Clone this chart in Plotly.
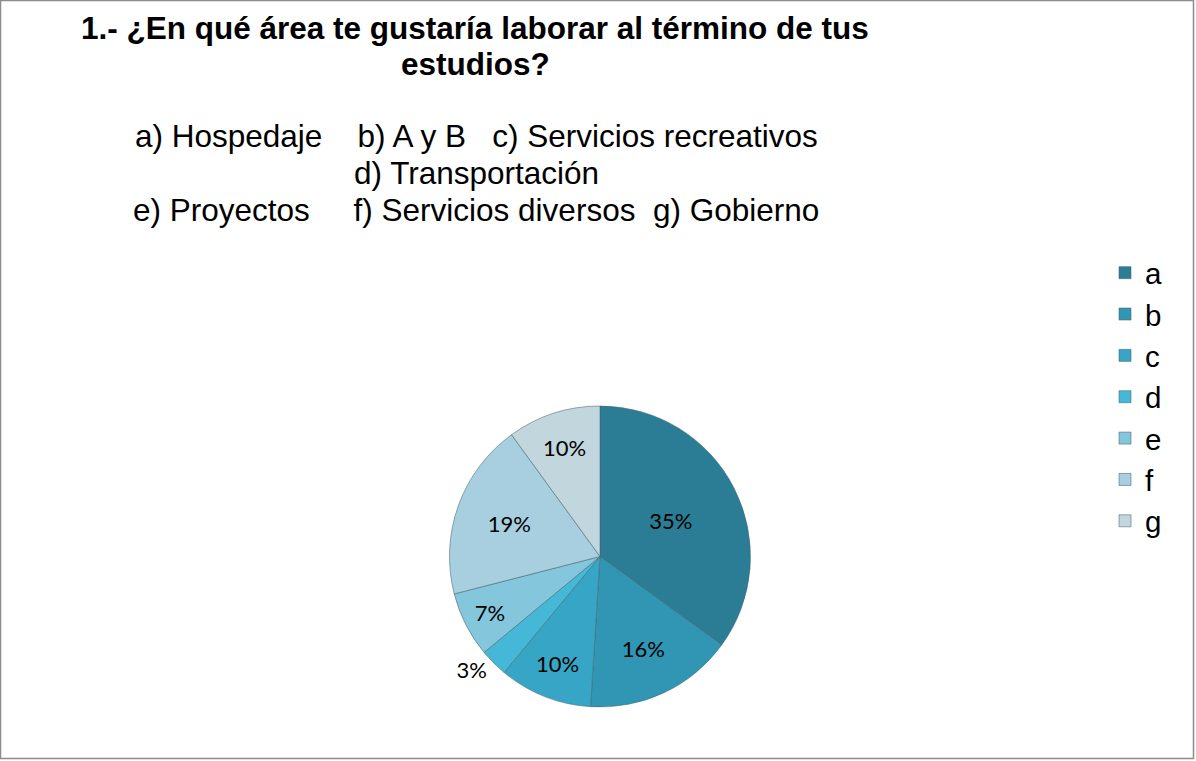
import plotly.graph_objects as go

categories = ["a", "b", "c", "d", "e", "f", "g"]
values = [35, 16, 10, 3, 7, 19, 10]
colors = ["#2a7d94", "#3096b4", "#37a6c6", "#45b8d8", "#84c6dc", "#a8cfdf", "#c2d6de"]
text_positions = ["inside", "inside", "inside", "outside", "inside", "inside", "inside"]

title_lines = ["1.- ¿En qué área te gustaría laborar al término de tus", "estudios?"]
subtitle_lines = [
    "a) Hospedaje    b) A y B   c) Servicios recreativos",
    "d) Transportación",
    "e) Proyectos     f) Servicios diversos  g) Gobierno",
]

W, H = 1196, 761

fig = go.Figure(go.Pie(
    labels=categories,
    values=values,
    sort=False,
    direction="clockwise",
    rotation=0,
    marker=dict(colors=colors, line=dict(color="rgba(70,100,110,0.55)", width=1)),
    textinfo="percent",
    texttemplate="%{percent:.0%}",
    textposition=text_positions,
    insidetextorientation="horizontal",
    textfont=dict(family="Lato, Open Sans, sans-serif", size=22, color="#000000"),
    domain=dict(x=[449 / W, 751 / W], y=[(H - 707) / H, (H - 406) / H]),
    hoverinfo="label+percent",
))

annotations = []
for i, line in enumerate(title_lines):
    annotations.append(dict(
        text="<b>" + line + "</b>", x=475 / W, y=1 - (28 + 36 * i) / H,
        xref="paper", yref="paper", xanchor="center", yanchor="middle",
        showarrow=False, font=dict(family="Liberation Sans, Arial", size=31.5, color="#000000"),
    ))
for i, line in enumerate(subtitle_lines):
    annotations.append(dict(
        text=line.replace("  ", "&nbsp;&nbsp;"), x=476 / W, y=1 - (136 + 37 * i) / H,
        xref="paper", yref="paper", xanchor="center", yanchor="middle",
        showarrow=False, font=dict(family="Liberation Sans, Arial", size=31.5, color="#000000"),
    ))

fig.update_layout(
    width=W, height=H,
    margin=dict(l=0, r=0, t=0, b=0),
    paper_bgcolor="white",
    plot_bgcolor="white",
    annotations=annotations,
    showlegend=True,
    legend=dict(
        x=1105 / W, y=1 - 247 / H, xanchor="left", yanchor="top",
        font=dict(family="Liberation Sans, Arial", size=29.5, color="#000000"),
        bgcolor="rgba(0,0,0,0)", itemclick=False, itemdoubleclick=False,
    ),
    shapes=[dict(type="rect", xref="paper", yref="paper",
                 x0=0.5 / W, x1=1193.5 / W, y0=1 - 758.5 / H, y1=1 - 0.5 / H,
                 line=dict(color="#8c8c8c", width=1.5), fillcolor="rgba(0,0,0,0)")],
)

fig.write_html("out.html", config={"displayModeBar": False},
               post_script="document.body.style.margin='0';document.body.style.padding='0';")
